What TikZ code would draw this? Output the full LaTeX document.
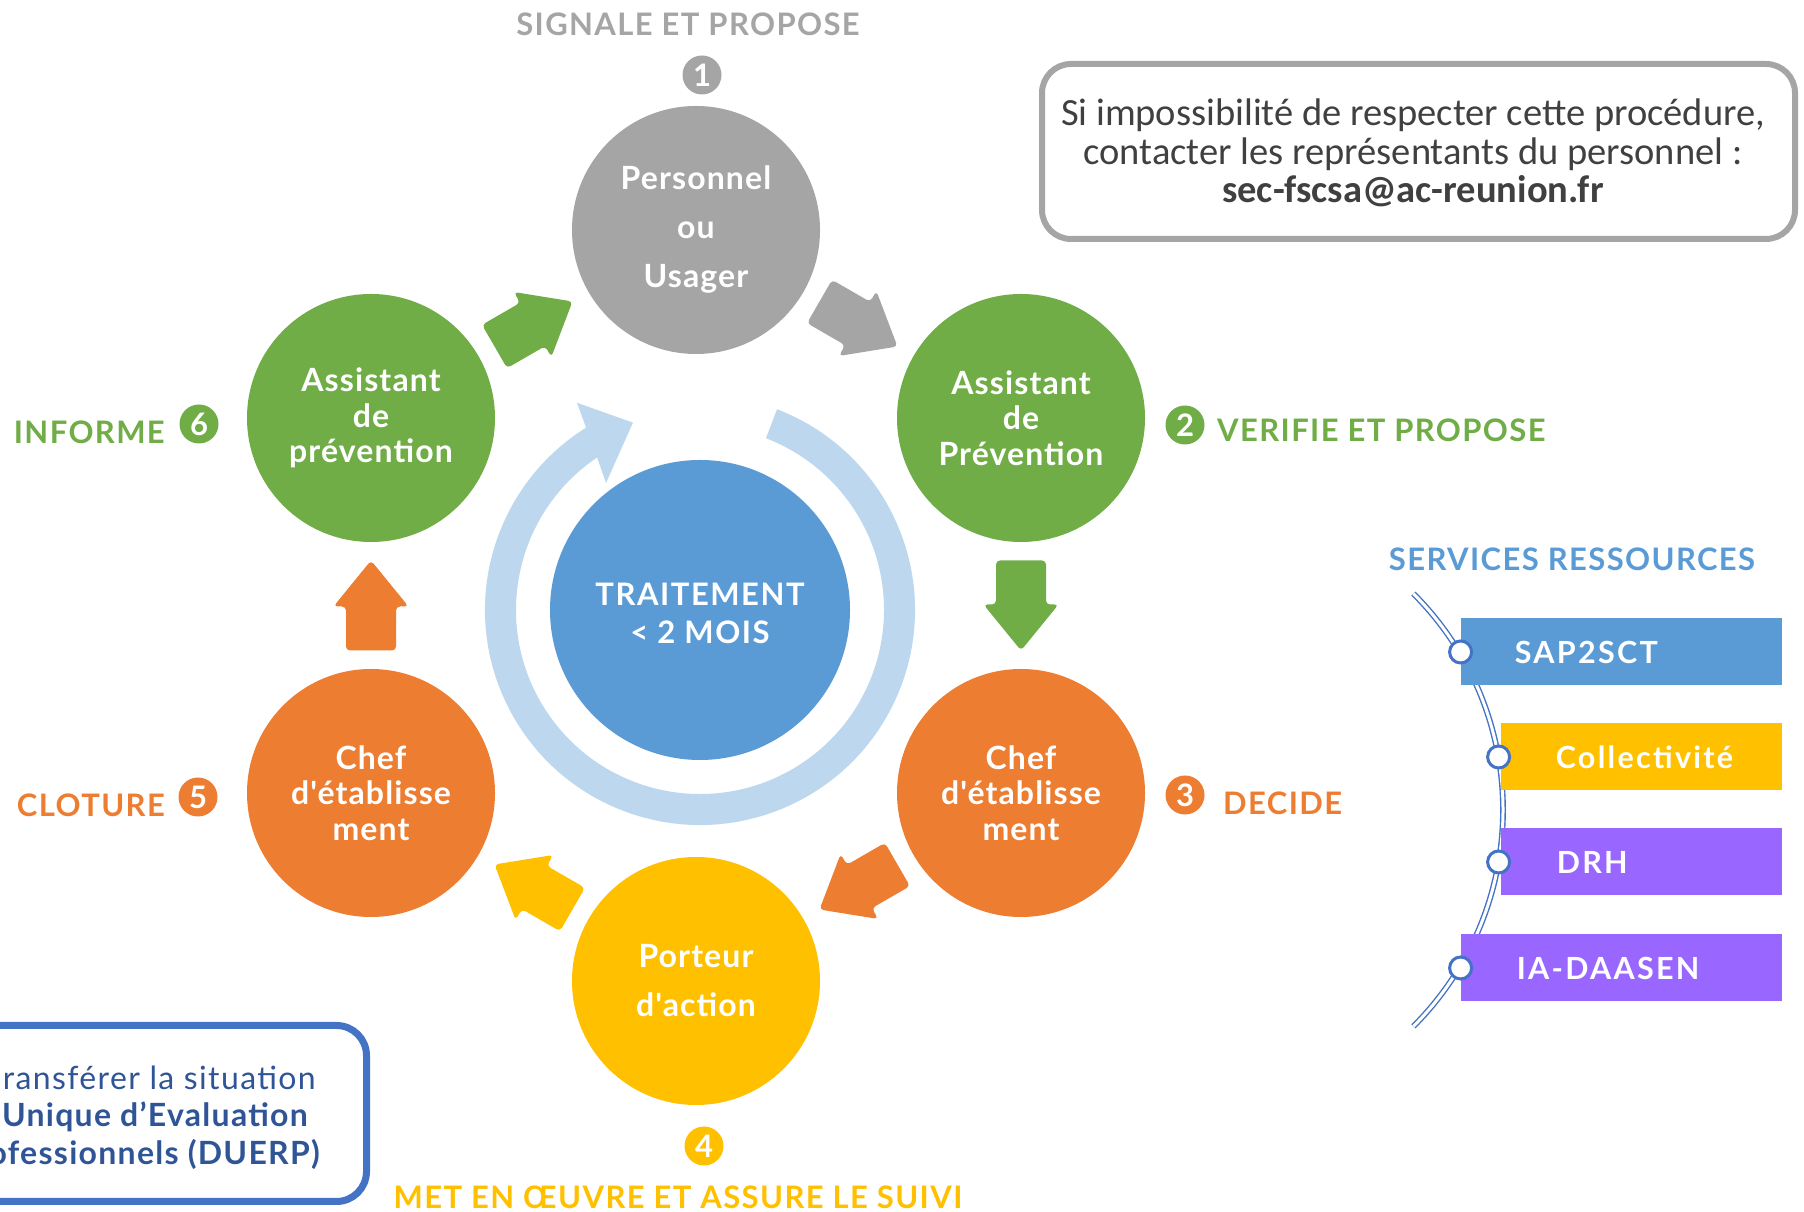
\documentclass[tikz,border=0pt]{standalone}
\usepackage{fontspec}
\setmainfont{Lato}[Ligatures=TeXOff]
\newfontfamily\notefont{Carlito}
\usetikzlibrary{calc}
\definecolor{cgray}{HTML}{A5A5A5}
\definecolor{cgreen}{HTML}{70AD47}
\definecolor{corange}{HTML}{ED7D31}
\definecolor{cyellow}{HTML}{FFC000}
\definecolor{cblue}{HTML}{5B9BD5}
\definecolor{clight}{HTML}{BDD7EE}
\definecolor{cpurple}{HTML}{9966FF}
\definecolor{cdark}{HTML}{4472C4}
\definecolor{cnavy}{HTML}{2F5597}
\definecolor{ctext}{HTML}{404040}
\tikzset{
  stage/.style={circle, minimum size=248pt, inner sep=0pt, text=white, align=center},
  stagefontA/.style={font=\fontsize{32}{49}\selectfont\bfseries\addfontfeature{LetterSpace=3.5}},
  stagefontB/.style={font=\fontsize{32}{35.5}\selectfont\bfseries\addfontfeature{LetterSpace=3.5}},
  numc/.style={circle, minimum size=39pt, inner sep=0pt, text=white, font=\fontsize{31}{31}\selectfont\bfseries},
  steplabel/.style={inner sep=0pt, font=\fontsize{31}{31}\selectfont\bfseries\addfontfeature{LetterSpace=4.5}},
  srvbox/.style={rectangle, minimum width=321pt, minimum height=67pt, inner sep=0pt, anchor=east},
  srvtext/.style={anchor=west, inner sep=0pt, text=white, font=\fontsize{30.5}{30.5}\selectfont\bfseries\addfontfeature{LetterSpace=7.5}},
  knot/.style={circle, minimum size=22pt, inner sep=0pt, draw=cdark, line width=3pt, fill=white},
  thread/.style={draw=cdark, line width=1.4pt, double=white, double distance=3pt},
  duerp/.style={inner sep=0pt, text=cnavy, anchor=east, font=\fontsize{32}{32}\selectfont\addfontfeature{LetterSpace=4.3}},
  duerpbold/.style={inner sep=0pt, text=cnavy, anchor=east, font=\fontsize{32}{32}\selectfont\bfseries\addfontfeature{LetterSpace=4}},
  blockarrow/.pic={\fill[#1, rounded corners=4pt] (-45,-25) -- (-1,-25) -- (-1,-37.5) -- (45,0) -- (-1,37.5) -- (-1,25) -- (-45,25) -- cycle;}
}
\begin{document}
\begin{tikzpicture}[x=1pt, y=1pt]
\clip (0,0) rectangle (1804,1212);
\fill[white] (0,0) rectangle (1804,1212);

% ring arrow around the centre
\coordinate (rc) at (700,602);
\fill[clight] ($(rc)+(69:215)$) arc[start angle=69, end angle=-238, radius=215]
  -- ($(rc)+(120.7:241)$) -- ($(rc)+(109.7:199)$) -- ($(rc)+(126.5:158)$)
  -- ($(rc)+(124:184)$) arc[start angle=-236, end angle=69, radius=184] -- cycle;

\node[circle, fill=cblue, minimum size=300pt, inner sep=0pt] (ctr) at (rc) {};
\node[inner sep=0pt, text=white, align=center,
  font=\fontsize{31}{38}\selectfont\bfseries\addfontfeature{LetterSpace=5}] (ctrtext) at ([yshift=-3pt]ctr.center) {TRAITEMENT\\< 2 MOIS};

% stages
\node[stage, stagefontA, fill=cgray]   (p1) at (696,982) {Personnel\\ou\\Usager};
\node[stage, stagefontB, fill=cgreen]  (p2) at (1021,794) {Assistant\\de\\Prévention};
\node[stage, stagefontB, fill=corange] (p3) at (1021,419) {Chef\\d'établisse\\ment};
\node[stage, stagefontA, fill=cyellow] (p4) at (696,231) {Porteur\\d'action};
\node[stage, stagefontB, fill=corange] (p5) at (371,419) {Chef\\d'établisse\\ment};
\node[stage, stagefontB, fill=cgreen]  (p6) at (371,794) {Assistant\\de\\prévention};

% block arrows between stages
\pic[rotate=-30]  at ($(p1)!0.5!(p2)$) {blockarrow=cgray};
\pic[rotate=-90]  at ($(p2)!0.5!(p3)$) {blockarrow=cgreen};
\pic[rotate=-150] at ($(p3)!0.5!(p4)$) {blockarrow=corange};
\pic[rotate=150]  at ($(p4)!0.5!(p5)$) {blockarrow=cyellow};
\pic[rotate=90]   at ($(p5)!0.5!(p6)$) {blockarrow=corange};
\pic[rotate=30]   at ($(p6)!0.5!(p1)$) {blockarrow=cgreen};

% step labels
\node[steplabel, text=cgray] (l1) at (688,1188) {SIGNALE ET PROPOSE};
\node[numc, fill=cgray] (n1) at (702,1137) {1};
\node[numc, fill=cgreen] (n2) at (1185,787) {2};
\node[steplabel, text=cgreen, anchor=west] (l2) at (1217,782) {VERIFIE ET PROPOSE};
\node[numc, fill=corange] (n3) at (1185,417) {3};
\node[steplabel, text=corange, anchor=west] (l3) at (1223,409) {DECIDE};
\node[numc, fill=cyellow] (n4) at (704,66) {4};
\node[steplabel, text=cyellow] (l4) at (678,15) {MET EN ŒUVRE ET ASSURE LE SUIVI};
\node[numc, fill=corange] (n5) at (198,415) {5};
\node[steplabel, text=corange, anchor=east] (l5) at (165,407) {CLOTURE};
\node[numc, fill=cgreen] (n6) at (199,788) {6};
\node[steplabel, text=cgreen, anchor=east] (l6) at (165,780) {INFORME};

% note box top right
\draw[cgray, line width=6pt, fill=white, rounded corners=29pt] (1042,973) rectangle (1795,1148);
\node[inner sep=0pt, text=ctext, align=center, font=\notefont\fontsize{38.5}{38.5}\selectfont] (note) at (1413,1059)
  {Si impossibilité de respecter cette procédure,\\contacter les représentants du personnel :\\\textbf{sec-fscsa@ac-reunion.fr}};

% note box bottom left
\draw[cdark, line width=7pt, fill=white, rounded corners=30pt] (-60,10.5) rectangle (366.5,186.5);
\node[duerp] (b1) at (316,134) {ransférer la situation};
\node[duerpbold] (b2) at (308,95) {Unique d’Evaluation};
\node[duerpbold] (b3) at (320,58) {ofessionnels (DUERP)};

% services ressources
\node[inner sep=0pt, text=cblue, font=\fontsize{31}{31}\selectfont\bfseries\addfontfeature{LetterSpace=4.5}] (srv) at (1572,653) {SERVICES RESSOURCES};
\coordinate (tc) at (1197,402);
\draw[thread] ($(tc)+(45:306)$) arc[start angle=45, end angle=-45, radius=306];
\node[srvbox, fill=cblue]   (s1) at (1782,560) {};
\node[srvbox, fill=cyellow, minimum width=281pt] (s2) at (1782,455) {};
\node[srvbox, fill=cpurple, minimum width=281pt] (s3) at (1782,350) {};
\node[srvbox, fill=cpurple] (s4) at (1782,244) {};
\node[srvtext] at ([xshift=54pt]s1.west) {SAP2SCT};
\node[srvtext] at ([xshift=55pt]s2.west) {Collectivité};
\node[srvtext] at ([xshift=56pt]s3.west) {DRH};
\node[srvtext] at ([xshift=56pt]s4.west) {IA-DAASEN};
\node[knot] (k1) at (s1.west) {};
\node[knot] (k2) at ([xshift=-2pt]s2.west) {};
\node[knot] (k3) at ([xshift=-2pt]s3.west) {};
\node[knot] (k4) at (s4.west) {};
\end{tikzpicture}
\end{document}
